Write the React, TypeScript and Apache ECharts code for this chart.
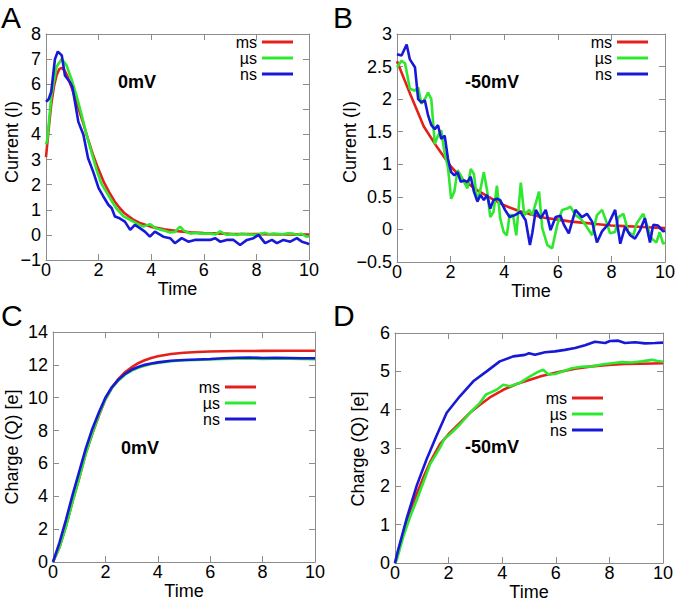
import React, { useEffect, useRef } from "react";
import * as echarts from "echarts";

// ---------- data (time, value) ----------
const seriesNames = ["ms", "µs", "ns"];
const xTicks = { min: 0, max: 10, interval: 2 };

// Panel A: Current (I), 0mV
const aMs: [number, number][] = [
  [0, 3.1], [0.1, 4.2], [0.2, 5.2], [0.3, 5.9], [0.4, 6.35], [0.5, 6.6], [0.6, 6.65], [0.7, 6.55],
  [0.8, 6.35], [1.0, 5.8], [1.2, 5.15], [1.4, 4.5], [1.6, 3.8], [1.8, 3.15], [2.0, 2.6], [2.2, 2.1],
  [2.4, 1.7], [2.6, 1.35], [2.8, 1.07], [3.0, 0.85], [3.3, 0.62], [3.6, 0.46], [4.0, 0.32], [4.5, 0.22],
  [5, 0.15], [5.5, 0.1], [6, 0.07], [7, 0.04], [8, 0.03], [9, 0.02], [10, 0.01],
];
const aUs: [number, number][] = [
  [0, 3.6], [0.05, 3.8], [0.2, 5.5], [0.4, 6.7], [0.6, 7.0], [0.78, 6.75], [0.97, 6.2], [1.16, 5.55],
  [1.35, 4.8], [1.54, 4.0], [1.73, 3.3], [1.92, 2.6], [2.1, 2.05], [2.3, 1.7], [2.5, 1.35], [2.68, 1.05],
  [2.94, 0.75], [3.2, 0.6], [3.44, 0.46], [3.7, 0.33], [3.95, 0.43], [4.2, 0.25], [4.46, 0.18], [4.72, 0.1],
  [4.9, 0.12], [5.1, 0.33], [5.23, 0.18], [5.5, 0.05], [5.7, 0.08], [5.9, 0.05], [6.24, 0.05], [6.45, 0.02],
  [6.62, 0.14], [6.87, 0.0], [7.05, 0.03], [7.26, 0.0], [7.45, 0.04], [7.64, 0.02], [8.0, 0.0], [8.33, 0.08],
  [8.5, 0.02], [8.65, 0.05], [9.0, 0.02], [9.2, 0.06], [9.4, 0.05], [9.55, 0.0], [9.7, 0.05], [9.92, -0.08], [10, -0.05],
];
const aNs: [number, number][] = [
  [0, 5.3], [0.1, 5.4], [0.2, 5.7], [0.34, 7.0], [0.45, 7.3], [0.6, 7.15], [0.72, 6.35], [0.9, 6.1],
  [1.0, 5.9], [1.1, 5.3], [1.23, 4.5], [1.42, 4.0], [1.6, 3.05], [1.8, 2.5], [2.0, 1.86], [2.18, 1.53],
  [2.37, 1.2], [2.5, 1.06], [2.62, 0.73], [2.8, 0.66], [3.0, 0.53], [3.2, 0.2], [3.38, 0.4], [3.57, 0.27],
  [3.76, 0.13], [3.95, -0.07], [4.14, 0.13], [4.46, -0.07], [4.72, -0.13], [4.9, -0.33], [5.16, -0.13],
  [5.41, -0.27], [5.66, -0.2], [5.98, -0.2], [6.24, -0.2], [6.43, -0.13], [6.62, -0.27], [6.87, -0.2],
  [7.13, -0.2], [7.38, -0.4], [7.64, -0.2], [7.89, -0.13], [8.08, 0.0], [8.33, -0.33], [8.59, -0.2],
  [8.78, -0.33], [9.03, -0.2], [9.29, -0.27], [9.54, -0.13], [9.73, -0.27], [9.92, -0.33], [10, -0.38],
];

// Panel B: Current (I), -50mV
const bMs: [number, number][] = [
  [0, 2.58], [0.5, 2.07], [1, 1.58], [1.5, 1.26], [2, 0.97], [2.5, 0.75], [3, 0.6], [3.5, 0.48],
  [4, 0.37], [4.5, 0.29], [5, 0.23], [5.5, 0.18], [6, 0.15], [6.5, 0.12], [7, 0.1], [7.5, 0.08],
  [8, 0.06], [8.5, 0.05], [9, 0.04], [9.5, 0.03], [10, 0.02],
];
const bUs: [number, number][] = [
  [0, 2.49], [0.17, 2.59], [0.3, 2.55], [0.48, 2.16], [0.67, 2.13], [0.79, 2.18], [0.91, 1.93], [1.04, 2.0],
  [1.16, 2.1], [1.28, 2.0], [1.41, 1.31], [1.53, 1.44], [1.65, 1.52], [1.78, 1.16], [1.9, 0.96], [2.02, 0.47],
  [2.14, 0.58], [2.26, 0.91], [2.38, 0.83], [2.5, 0.73], [2.63, 0.63], [2.75, 0.93], [2.87, 0.85], [3.0, 0.42],
  [3.12, 0.63], [3.24, 0.88], [3.36, 0.6], [3.48, 0.19], [3.6, 0.27], [3.73, 0.67], [3.85, 0.17], [3.98, -0.04],
  [4.1, -0.09], [4.2, 0.22], [4.33, 0.22], [4.45, -0.09], [4.62, 0.72], [4.75, 0.22], [4.93, 0.3], [5.05, 0.22],
  [5.3, 0.58], [5.42, 0.02], [5.61, -0.24], [5.79, -0.29], [5.98, 0.07], [6.16, 0.3], [6.35, 0.32], [6.47, 0.35],
  [6.66, 0.22], [6.84, 0.17], [7.03, 0.07], [7.28, -0.09], [7.46, 0.22], [7.65, 0.3], [7.77, 0.17], [7.95, -0.06],
  [8.14, -0.04], [8.26, 0.19], [8.45, 0.24], [8.63, -0.04], [8.82, -0.09], [8.94, 0.09], [9.19, 0.24], [9.31, 0.09],
  [9.5, -0.14], [9.68, -0.2], [9.8, -0.04], [9.93, -0.22], [10, -0.2],
];
const bNs: [number, number][] = [
  [0, 2.69], [0.17, 2.67], [0.36, 2.84], [0.48, 2.61], [0.67, 2.49], [0.79, 2.0], [0.91, 1.95], [1.04, 1.98],
  [1.16, 1.75], [1.28, 1.6], [1.41, 1.54], [1.53, 1.6], [1.65, 1.39], [1.78, 1.44], [1.9, 1.09], [2.02, 0.88],
  [2.14, 0.83], [2.26, 0.88], [2.38, 0.73], [2.5, 0.75], [2.63, 0.73], [2.75, 0.81], [2.87, 0.58], [3.0, 0.43],
  [3.12, 0.53], [3.24, 0.45], [3.36, 0.53], [3.48, 0.32], [3.6, 0.45], [3.73, 0.47], [3.85, 0.45], [4.03, 0.3],
  [4.2, 0.19], [4.4, 0.22], [4.6, 0.27], [4.8, 0.14], [4.96, -0.24], [5.05, -0.05], [5.18, 0.3], [5.36, 0.17],
  [5.55, 0.3], [5.73, -0.01], [5.92, 0.19], [6.1, 0.21], [6.23, 0.07], [6.41, -0.06], [6.66, 0.3], [6.9, 0.19],
  [7.09, 0.24], [7.28, 0.12], [7.46, -0.2], [7.65, -0.03], [7.9, 0.09], [8.14, 0.3], [8.33, -0.22], [8.51, 0.04],
  [8.7, -0.09], [8.88, -0.14], [9.07, -0.01], [9.25, 0.17], [9.44, -0.2], [9.56, 0.07], [9.74, 0.06],
  [9.93, -0.03], [10, -0.02],
];

// Panel C: Charge (Q), 0mV
const cMs: [number, number][] = [
  [0, 0], [0.25, 0.9], [0.5, 2.2], [0.75, 3.7], [1, 5.1], [1.25, 6.6], [1.5, 7.8], [1.75, 8.9], [2, 9.9],
  [2.25, 10.6], [2.5, 11.15], [2.75, 11.55], [3, 11.85], [3.25, 12.1], [3.5, 12.28], [3.75, 12.42], [4, 12.52],
  [4.5, 12.66], [5, 12.74], [5.5, 12.78], [6, 12.81], [7, 12.84], [8, 12.85], [9, 12.86], [10, 12.86],
];
const cUs: [number, number][] = [
  [0, 0], [0.25, 0.9], [0.5, 2.2], [0.75, 3.7], [1, 5.1], [1.25, 6.6], [1.5, 7.85], [1.75, 8.95], [2, 9.9],
  [2.25, 10.6], [2.5, 11.05], [2.75, 11.4], [3, 11.65], [3.25, 11.82], [3.5, 11.95], [3.75, 12.05], [4, 12.12],
  [4.5, 12.22], [5, 12.28], [5.5, 12.3], [6, 12.33], [6.5, 12.36], [7, 12.38], [7.5, 12.38], [8, 12.36],
  [8.5, 12.38], [9, 12.37], [9.5, 12.36], [10, 12.35],
];
const cNs: [number, number][] = [
  [0, 0], [0.25, 1.2], [0.5, 2.6], [0.75, 4.1], [1, 5.5], [1.25, 6.9], [1.5, 8.1], [1.75, 9.1], [2, 10.0],
  [2.25, 10.65], [2.5, 11.1], [2.75, 11.45], [3, 11.7], [3.25, 11.87], [3.5, 12.0], [3.75, 12.08], [4, 12.15],
  [4.5, 12.25], [5, 12.3], [5.5, 12.33], [6, 12.36], [6.5, 12.4], [7, 12.43], [7.5, 12.45], [8, 12.42],
  [8.5, 12.43], [9, 12.42], [9.5, 12.4], [10, 12.4],
];

// Panel D: Charge (Q), -50mV
const dMs: [number, number][] = [
  [0, 0], [0.31, 0.78], [0.56, 1.34], [0.81, 1.81], [1.06, 2.24], [1.31, 2.63], [1.68, 3.1], [2.05, 3.4],
  [2.43, 3.66], [2.8, 3.92], [3.17, 4.13], [3.54, 4.32], [4.04, 4.52], [4.54, 4.67], [5.04, 4.78], [5.47, 4.88],
  [6.1, 4.98], [6.72, 5.07], [7.34, 5.13], [7.96, 5.17], [8.58, 5.19], [9.21, 5.2], [10, 5.21],
];
const dUs: [number, number][] = [
  [0, 0], [0.06, 0.07], [0.31, 0.69], [0.56, 1.2], [0.81, 1.64], [1.06, 2.11], [1.31, 2.58], [1.68, 3.01],
  [1.85, 3.25], [2.05, 3.36], [2.43, 3.62], [2.8, 3.92], [3.17, 4.18], [3.4, 4.4], [3.54, 4.44], [3.79, 4.52],
  [4.04, 4.65], [4.29, 4.61], [4.66, 4.7], [5.04, 4.87], [5.35, 4.99], [5.53, 5.04], [5.72, 4.92], [5.97, 4.93],
  [6.22, 4.99], [6.6, 5.08], [6.97, 5.12], [7.34, 5.13], [7.72, 5.18], [8.09, 5.21], [8.46, 5.24], [8.84, 5.23],
  [9.21, 5.26], [9.58, 5.3], [9.8, 5.27], [10, 5.25],
];
const dNs: [number, number][] = [
  [0, 0], [0.1, 0.3], [0.43, 1.15], [0.81, 2.02], [1.18, 2.71], [1.55, 3.32], [1.93, 3.92], [2.42, 4.35],
  [2.92, 4.74], [3.42, 5.0], [3.91, 5.26], [4.41, 5.39], [4.85, 5.43], [5.0, 5.47], [5.22, 5.43], [5.6, 5.5],
  [5.97, 5.52], [6.34, 5.56], [6.72, 5.61], [7.09, 5.68], [7.46, 5.77], [7.84, 5.74], [8.02, 5.79], [8.33, 5.8],
  [8.58, 5.74], [8.96, 5.76], [9.33, 5.73], [9.7, 5.74], [10, 5.75],
];

// ---------- layout / style ----------
const colors = ["#e3201c", "#2ee82e", "#1818d8"];
const frame = "#8c8c8c";
const FONT = "Liberation Sans";

const panels = [
  {
    grid: { left: 46, top: 34, width: 263, height: 226 }, y: { min: -1, max: 8, interval: 1 },
    data: [aMs, aUs, aNs], yTitle: "Current (I)", yTitlePos: [12, 142], note: "0mV", notePos: [137, 82],
    letter: "A", letterPos: [1, 17], legend: { right: 387, top: 34 }, timeGap: 17,
  },
  {
    grid: { left: 397, top: 34, width: 268, height: 228 }, y: { min: -0.5, max: 3, interval: 0.5 },
    data: [bMs, bUs, bNs], yTitle: "Current (I)", yTitlePos: [350, 142], note: "-50mV", notePos: [492, 82],
    letter: "B", letterPos: [333, 17], legend: { right: 32, top: 34 }, timeGap: 19,
  },
  {
    grid: { left: 53, top: 332, width: 262, height: 230 }, y: { min: 0, max: 14, interval: 2 },
    data: [cMs, cUs, cNs], yTitle: "Charge (Q) [e]", yTitlePos: [12, 447], note: "0mV", notePos: [140, 448],
    letter: "C", letterPos: [1, 315], legend: { right: 424, top: 379 }, timeGap: 19,
  },
  {
    grid: { left: 395, top: 333, width: 268, height: 231 }, y: { min: 0, max: 6, interval: 1 },
    data: [dMs, dUs, dNs], yTitle: "Charge (Q) [e]", yTitlePos: [358, 449], note: "-50mV", notePos: [492, 447],
    letter: "D", letterPos: [333, 315], legend: { right: 77, top: 390 }, timeGap: 19,
  },
];

const minusFmt = (v: number) => String(v).replace("-", "\u2212");

function buildOption() {
  const grid: any[] = [];
  const xAxis: any[] = [];
  const yAxis: any[] = [];
  const series: any[] = [];
  const legend: any[] = [];
  const graphic: any[] = [];

  const tick = { show: true, inside: true, length: 6, lineStyle: { color: frame, width: 1 } };
  const line = { show: true, onZero: false, lineStyle: { color: frame, width: 1 } };
  const labelStyle = { color: "#000", fontSize: 18, fontFamily: FONT };

  panels.forEach((p, i) => {
    grid.push({ ...p.grid, containLabel: false });
    xAxis.push({
      type: "value", gridIndex: i, position: "bottom", ...xTicks,
      axisLine: line, axisTick: tick, splitLine: { show: false },
      axisLabel: { ...labelStyle, margin: 1, formatter: minusFmt },
      name: "Time", nameLocation: "middle", nameGap: p.timeGap,
      nameTextStyle: { ...labelStyle },
    });
    xAxis.push({
      type: "value", gridIndex: i, position: "top", ...xTicks,
      axisLine: line, axisTick: tick, splitLine: { show: false }, axisLabel: { show: false },
    });
    yAxis.push({
      type: "value", gridIndex: i, position: "left", ...p.y,
      axisLine: line, axisTick: tick, splitLine: { show: false },
      axisLabel: { ...labelStyle, margin: 5, formatter: minusFmt },
    });
    yAxis.push({
      type: "value", gridIndex: i, position: "right", ...p.y,
      axisLine: line, axisTick: tick, splitLine: { show: false }, axisLabel: { show: false },
    });
    p.data.forEach((d, k) => {
      series.push({
        type: "line", name: seriesNames[k], data: d, xAxisIndex: i * 2, yAxisIndex: i * 2,
        showSymbol: false, symbol: "none", smooth: false,
        lineStyle: { color: colors[k], width: 2.6 }, itemStyle: { color: colors[k] },
        z: 2 + k,
      });
    });
    legend.push({
      orient: "vertical", align: "right", right: p.legend.right, top: p.legend.top,
      padding: 0, itemGap: 0, itemWidth: 31, itemHeight: 3, icon: "rect",
      selectedMode: false, data: seriesNames,
      textStyle: { color: "#000", fontSize: 16, fontFamily: FONT, lineHeight: 16 },
    });
    graphic.push({
      type: "text", x: p.yTitlePos[0], y: p.yTitlePos[1], rotation: Math.PI / 2,
      style: {
        text: p.yTitle, fill: "#000", fontSize: 18, fontFamily: FONT,
        align: "center", verticalAlign: "middle", textAlign: "center", textVerticalAlign: "middle",
      },
    });
    graphic.push({
      type: "text", x: p.notePos[0], y: p.notePos[1],
      style: {
        text: p.note, fill: "#000", fontSize: 18, fontWeight: "bold", fontFamily: FONT,
        align: "center", verticalAlign: "middle", textAlign: "center", textVerticalAlign: "middle",
      },
    });
    graphic.push({
      type: "text", x: p.letterPos[0], y: p.letterPos[1],
      style: {
        text: p.letter, fill: "#000", fontSize: 30, fontFamily: FONT,
        align: "left", verticalAlign: "middle", textAlign: "left", textVerticalAlign: "middle",
      },
    });
  });

  return {
    animation: false,
    backgroundColor: "#fff",
    textStyle: { fontFamily: FONT },
    grid, xAxis, yAxis, series, legend, graphic,
  };
}

export default function App() {
  const ref = useRef<HTMLDivElement>(null);
  useEffect(() => {
    if (!ref.current) return;
    const chart = echarts.init(ref.current, undefined, { renderer: "svg" });
    chart.setOption(buildOption() as any);
    return () => chart.dispose();
  }, []);
  return (
    <div
      ref={ref}
      style={{ position: "absolute", left: 0, top: 0, width: 680, height: 602, background: "#fff" }}
    />
  );
}
